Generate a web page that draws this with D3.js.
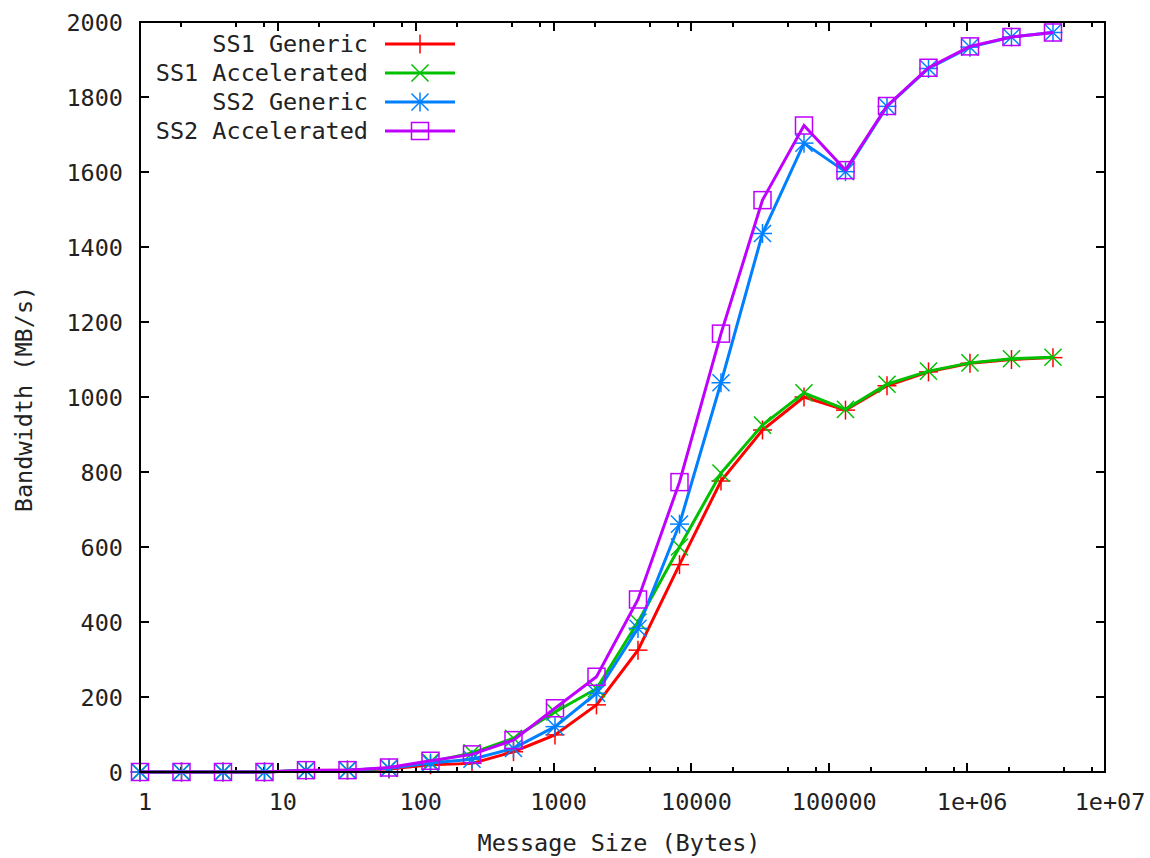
<!DOCTYPE html>
<html><head><meta charset="utf-8">
<script src="https://cdn.jsdelivr.net/npm/d3@7"></script>
<style>
html,body{margin:0;padding:0;background:#fff;}
svg text{font-family:"DejaVu Sans Mono","Liberation Mono",monospace;fill:#222;}
</style></head>
<body>
<svg id="chart" width="1150" height="858"></svg>
<script>
// ---- data ----
const messageSizes = [1,2,4,8,16,32,64,128,256,512,1024,2048,4096,8192,16384,32768,65536,131072,262144,524288,1048576,2097152,4194304];
const ss1Generic     = [0,0,0,0,4,5,8,19,23,54,99,179,325,553,776,912,1000,965,1030,1067,1090,1100,1105];
const ss1Accelerated = [0,0,0,0,4,5,10,27,51,90,160,222,400,600,797,925,1011,967,1034,1069,1091,1102,1106];
const ss2Generic     = [0,0,0,0,4,5,10,24,34,63,121,210,383,661,1038,1436,1677,1601,1775,1876,1933,1960,1972];
const ss2Accelerated = [0,0,0,0,5,5,12,30,47,85,170,254,460,773,1169,1525,1724,1605,1776,1878,1935,1960,1972];
const seriesNames  = ["SS1 Generic","SS1 Accelerated","SS2 Generic","SS2 Accelerated"];
const seriesColors = ["#ff0000","#00c000","#0080ff","#c000ff"];
const seriesMarkers = ["plus","cross","star","square"];
const xTickValues = [1,10,100,1000,10000,100000,1000000,10000000];
const xTickLabels = ["1","10","100","1000","10000","100000","1e+06","1e+07"];
const yTickValues = [0,200,400,600,800,1000,1200,1400,1600,1800,2000];
const xMinorMultipliers = [2,5,8];
const xTitle = "Message Size (Bytes)";
const yTitle = "Bandwidth (MB/s)";

const allSeries = [ss1Generic, ss1Accelerated, ss2Generic, ss2Accelerated];

// ---- layout ----
const L = 140, R = 1105, T = 22, B = 772;
const svg = d3.select("#chart");
const x = d3.scaleLog().domain([1, 1e7]).range([L, R]);
const y = d3.scaleLinear().domain([0, 2000]).range([B, T]);
const FS = 23.5;

// minor ticks list
const minorTicks = [];
xTickValues.slice(0,-1).forEach(d => xMinorMultipliers.forEach(m => minorTicks.push(d*m)));

const axisG = svg.append("g").attr("stroke","#000").attr("stroke-width",1.5).attr("shape-rendering","crispEdges");
// x ticks bottom & top
xTickValues.forEach(v => {
  const px = Math.round(x(v));
  axisG.append("line").attr("x1",px).attr("x2",px).attr("y1",B).attr("y2",B-9);
  axisG.append("line").attr("x1",px).attr("x2",px).attr("y1",T).attr("y2",T+9);
});
minorTicks.forEach(v => {
  const px = Math.round(x(v));
  axisG.append("line").attr("x1",px).attr("x2",px).attr("y1",B).attr("y2",B-5);
  axisG.append("line").attr("x1",px).attr("x2",px).attr("y1",T).attr("y2",T+5);
});
yTickValues.forEach(v => {
  const py = Math.round(y(v));
  axisG.append("line").attr("x1",L).attr("x2",L+9).attr("y1",py).attr("y2",py);
  axisG.append("line").attr("x1",R).attr("x2",R-9).attr("y1",py).attr("y2",py);
});

// tick labels
svg.append("g").selectAll("text").data(xTickValues).join("text")
  .attr("x", d => x(d) + 5).attr("y", 810)
  .attr("text-anchor","middle").attr("font-size",FS)
  .text((d,i) => xTickLabels[i]);
svg.append("g").selectAll("text").data(yTickValues).join("text")
  .attr("x", 123).attr("y", d => y(d) + 9)
  .attr("text-anchor","end").attr("font-size",FS)
  .text(d => d);

// titles
svg.append("text").attr("x", 619).attr("y", 851).attr("text-anchor","middle").attr("font-size",FS).text(xTitle);
svg.append("text").attr("transform","translate(32,399) rotate(-90)").attr("text-anchor","middle").attr("font-size",FS).text(yTitle);

// markers
function drawMarker(g, type, cx, cy, color) {
  const s = 9.5;
  const m = g.append("g").attr("stroke", color).attr("stroke-width",1.5).attr("fill","none");
  if (type === "plus" || type === "star") {
    m.append("line").attr("x1",cx-s).attr("x2",cx+s).attr("y1",cy).attr("y2",cy);
    m.append("line").attr("x1",cx).attr("x2",cx).attr("y1",cy-s).attr("y2",cy+s);
  }
  if (type === "cross" || type === "star") {
    const d = s*0.9;
    m.append("line").attr("x1",cx-d).attr("x2",cx+d).attr("y1",cy-d).attr("y2",cy+d);
    m.append("line").attr("x1",cx-d).attr("x2",cx+d).attr("y1",cy+d).attr("y2",cy-d);
  }
  if (type === "square") {
    const h = 8.5;
    m.append("rect").attr("x",cx-h).attr("y",cy-h).attr("width",2*h).attr("height",2*h);
  }
}

const plotG = svg.append("g");
const line = d3.line().x(d => x(d[0])).y(d => y(d[1]));
allSeries.forEach((vals, si) => {
  const pts = messageSizes.map((s, i) => [s, vals[i]]);
  plotG.append("path").datum(pts).attr("d", line)
    .attr("fill","none").attr("stroke", seriesColors[si]).attr("stroke-width",3)
    .attr("stroke-linejoin","miter");
  pts.forEach(p => drawMarker(plotG, seriesMarkers[si], x(p[0]), y(p[1]), seriesColors[si]));
});

// border
svg.append("rect").attr("x",L).attr("y",T).attr("width",R-L).attr("height",B-T)
  .attr("fill","none").attr("stroke","#000").attr("stroke-width",1.5).attr("shape-rendering","crispEdges");

// legend
const legRows = [44,73,102,131];
const legG = svg.append("g");
seriesNames.forEach((n, i) => {
  legG.append("text").attr("x",368).attr("y",legRows[i]+8).attr("text-anchor","end").attr("font-size",FS).text(n);
  legG.append("line").attr("x1",385).attr("x2",455).attr("y1",legRows[i]).attr("y2",legRows[i])
    .attr("stroke",seriesColors[i]).attr("stroke-width",3);
  drawMarker(legG, seriesMarkers[i], 420, legRows[i], seriesColors[i]);
});
</script>
</body></html>
